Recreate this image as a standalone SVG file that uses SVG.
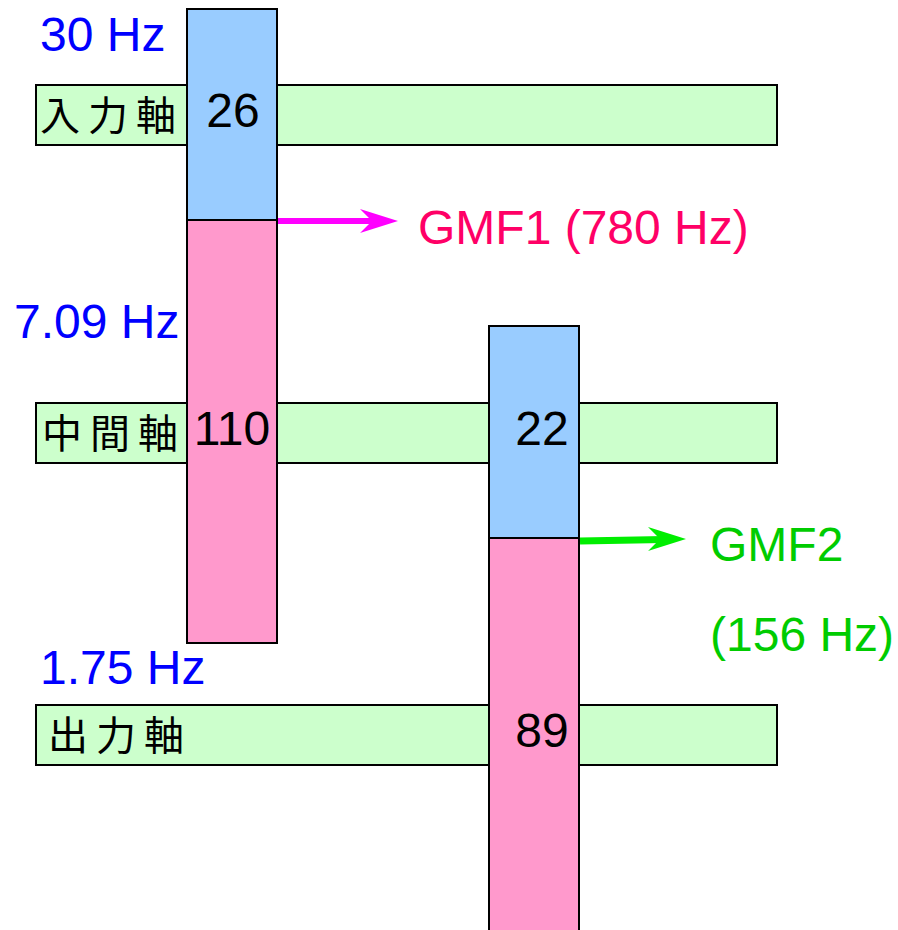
<svg xmlns="http://www.w3.org/2000/svg" width="898" height="930" viewBox="0 0 898 930">
<style>
.shaft{fill:#ccffcc;stroke:#000;stroke-width:2}
.blue{fill:#99ccff;stroke:#000;stroke-width:2}
.pink{fill:#ff99cc;stroke:#000;stroke-width:2}
.hz{font-family:"Liberation Sans",Arial,sans-serif;font-size:48px;fill:#0000ff}
.num{font-family:"Liberation Sans",Arial,sans-serif;font-size:48px;fill:#000}
.cjk{font-family:"Noto Sans CJK TC","Noto Sans CJK SC",sans-serif;font-size:40px;fill:#000;letter-spacing:8px}
.gmf1{font-family:"Liberation Sans",Arial,sans-serif;font-size:48px;fill:#ff0066}
.gmf2{font-family:"Liberation Sans",Arial,sans-serif;font-size:48px;fill:#00cc00}
</style>
<g id="shaft-input">
<rect class="shaft" x="36" y="85" width="741" height="60"/>
<text class="cjk" x="40" y="130">入力軸</text>
</g>
<g id="shaft-middle">
<rect class="shaft" x="36" y="403" width="741" height="60"/>
<text class="cjk" x="42" y="448">中間軸</text>
</g>
<g id="shaft-output">
<rect class="shaft" x="36" y="705" width="741" height="60"/>
<text class="cjk" x="48" y="750">出力軸</text>
</g>
<g id="gear-26">
<rect class="blue" x="187" y="9" width="90" height="211"/>
<text class="num" x="233" y="127" text-anchor="middle">26</text>
</g>
<g id="gear-110">
<rect class="pink" x="187" y="220" width="90" height="423"/>
<text class="num" x="232" y="445" text-anchor="middle">110</text>
</g>
<g id="gear-22">
<rect class="blue" x="489" y="326" width="90" height="212"/>
<text class="num" x="542" y="445" text-anchor="middle">22</text>
</g>
<g id="gear-89">
<rect class="pink" x="489" y="538" width="90" height="400"/>
<text class="num" x="542" y="747" text-anchor="middle">89</text>
</g>
<g id="labels">
<text class="hz" x="40" y="51">30 Hz</text>
<text class="hz" x="14" y="338">7.09 Hz</text>
<text class="hz" x="40" y="684">1.75 Hz</text>
<text class="gmf1" x="418" y="244">GMF1 (780 Hz)</text>
<text class="gmf2" x="710" y="561">GMF2</text>
<text class="gmf2" x="710" y="651">(156 Hz)</text>
</g>
<g id="connectors">
<line x1="278" y1="221" x2="372" y2="221" stroke="#ff00ff" stroke-width="6"/>
<polygon points="398,221 360,209 372,221 360,233" fill="#ff00ff"/>
<line x1="580" y1="541" x2="664" y2="539.5" stroke="#00ee00" stroke-width="7"/>
<polygon points="686,539 648,527 660,539 648,551" fill="#00ee00"/>
</g>
</svg>
